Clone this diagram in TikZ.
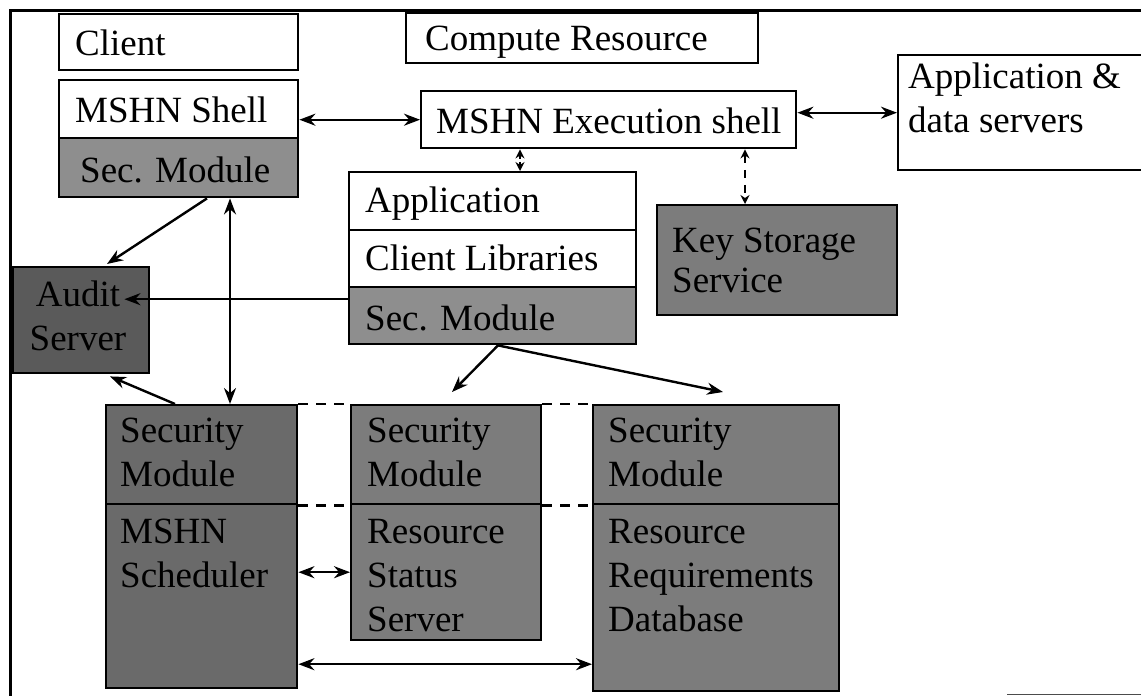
\documentclass[tikz,border=0pt]{standalone}
\usepackage{fontspec}
\setmainfont{Liberation Serif}
\usetikzlibrary{arrows.meta}
\definecolor{secgray}{HTML}{8E8E8E}
\definecolor{midgray}{HTML}{7C7C7C}
\definecolor{darkgray}{HTML}{6A6A6A}
\definecolor{auditgray}{HTML}{5A5A5A}
\begin{document}
\begin{tikzpicture}[x=1pt,y=-1pt,
  box/.style={draw=black, line width=2.4pt, anchor=north west, inner sep=0pt},
  lbl/.style={inner sep=0pt, font=\fontsize{37}{44}\selectfont, align=left, anchor=north west},
  lb/.style={inner sep=0pt, font=\fontsize{37}{44}\selectfont, anchor=base west},
  arr/.style={line width=2.4pt, -{Stealth[length=16pt,width=12pt]}},
  darr/.style={line width=2.4pt, {Stealth[length=16pt,width=12pt]}-{Stealth[length=16pt,width=12pt]}},
  sdarr/.style={line width=2pt, {Stealth[length=9pt,width=9pt]}-{Stealth[length=9pt,width=9pt]}},
  dsh/.style={line width=2.4pt, dash pattern=on 10pt off 8pt}]
\useasboundingbox (0,0) rectangle (1141,696);
% outer frame
\draw[line width=3pt] (1141,10) -- (10,10) -- (10,696);
\draw[line width=1.6pt, black!70] (1007,694.5) -- (1141,694.5);

% top-left: client
\node[box, minimum width=239pt, minimum height=56pt] (client) at (58,13) {};
\node[lb] (clientt) at (75,55) {Client};
\node[box, minimum width=239pt, minimum height=58pt] (shell) at (58,79) {};
\node[lb] (shellt) at (75,122) {MSHN Shell};
\node[box, fill=secgray, minimum width=239pt, minimum height=59pt] (shellsec) at (58,137) {};
\node[lb] (shellsect) at (80,182) {Sec. Module};

% compute resource
\node[box, minimum width=352pt, minimum height=50pt] (compute) at (405,12) {};
\node[lb] (computet) at (425,50) {Compute Resource};
\node[box, minimum width=375pt, minimum height=57pt] (exec) at (420,90) {};
\node[lb] (exect) at (436,133) {MSHN Execution shell};

% application & data servers
\node[box, minimum width=260pt, minimum height=115pt] (appdata) at (897,54) {};
\node[lbl] (appdatat) at (908,63) {Application \&\\data servers};

% application stack
\node[box, minimum width=287pt, minimum height=58pt] (app) at (348,171) {};
\node[lb] (appt) at (365,212) {Application};
\node[box, minimum width=287pt, minimum height=57pt] (applib) at (348,229) {};
\node[lb] (applibt) at (365,270) {Client Libraries};
\node[box, fill=secgray, minimum width=287pt, minimum height=57pt] (appsec) at (348,286) {};
\node[lb] (appsect) at (365,330) {Sec. Module};

% key storage
\node[box, fill=midgray, minimum width=240pt, minimum height=110pt] (key) at (656,204) {};
\node[lbl, font=\fontsize{37}{40}\selectfont] (keyt) at (672,228) {Key Storage\\Service};

% audit server
\node[box, fill=auditgray, minimum width=136pt, minimum height=106pt] (audit) at (12,266) {};
\node[inner sep=0pt, font=\fontsize{37}{44}\selectfont, align=center, anchor=north] (auditt) at (78,281) {Audit\\Server};

% bottom row
\node[box, fill=darkgray, minimum width=191pt, minimum height=99pt] (schedsec) at (105,404) {};
\node[box, fill=darkgray, minimum width=191pt, minimum height=184pt] (sched) at (105,503) {};
\node[lbl] (schedsect) at (120,418) {Security\\Module};
\node[lbl] (schedt) at (120,519) {MSHN\\Scheduler};

\node[box, fill=midgray, minimum width=190pt, minimum height=99pt] (rsssec) at (350,404) {};
\node[box, fill=midgray, minimum width=190pt, minimum height=136pt] (rss) at (350,503) {};
\node[lbl] (rsssect) at (367,418) {Security\\Module};
\node[lbl] (rsst) at (367,519) {Resource\\Status\\Server};

\node[box, fill=midgray, minimum width=246pt, minimum height=99pt] (rrdsec) at (592,404) {};
\node[box, fill=midgray, minimum width=246pt, minimum height=187pt] (rrd) at (592,503) {};
\node[lbl] (rrdsect) at (608,418) {Security\\Module};
\node[lbl] (rrdt) at (608,519) {Resource\\Requirements\\Database};

% dashed links between bottom boxes
\draw[dsh] (schedsec.north east) -- (rsssec.north west);
\draw[dsh] (rsssec.north east) -- (rrdsec.north west);
\draw[dsh] (schedsec.south east) -- (rsssec.south west);
\draw[dsh] (rsssec.south east) -- (rrdsec.south west);

% connectors
\draw[darr] (shell.east |- exec.west) -- (exec.west);
\draw[darr] (exec.east |- appdata.west) -- (appdata.west);
\draw[sdarr, dash pattern=on 4pt off 3pt] ([xshift=100pt]exec.south west) -- ([xshift=172pt]app.north west);
\draw[sdarr, dash pattern=on 8pt off 7pt] ([xshift=325pt]exec.south west) -- ([xshift=89pt]key.north west);
\draw[arr] ([xshift=149pt]shellsec.south west) -- ([xshift=95pt,yshift=2pt]audit.north west);
\draw[darr] ([xshift=172pt]shellsec.south west) -- ([xshift=125pt]schedsec.north west);
\draw[arr] ([yshift=16.5pt]appsec.west) -- ([xshift=-26pt,yshift=21pt]audit.east);
\draw[arr] ([xshift=70pt]schedsec.north west) -- ([xshift=98pt,yshift=-2pt]audit.south west);
\draw[arr] ([xshift=150pt]appsec.south west) -- ([xshift=102pt,yshift=12pt]rsssec.north west);
\draw[arr] ([xshift=150pt]appsec.south west) -- ([xshift=131pt,yshift=12pt]rrdsec.north west);
\draw[darr] (sched.east |- rss.west) -- (rss.west);
\draw[darr] ([yshift=-68pt]sched.east) -- ([yshift=-68pt]sched.east -| rrd.west);
\end{tikzpicture}
\end{document}
